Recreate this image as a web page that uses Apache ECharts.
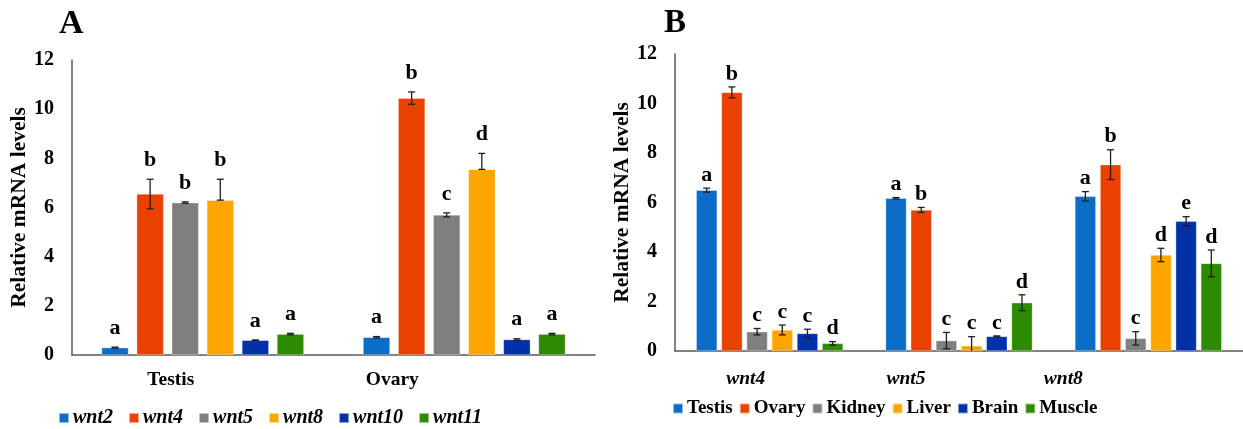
<!DOCTYPE html>
<html>
<head>
<meta charset="utf-8">
<script src="https://cdn.jsdelivr.net/npm/echarts@6/dist/echarts.min.js"></script>
<style>
  html, body { margin: 0; padding: 0; background: #fff; }
  #chart { width: 1243px; height: 429px; }
</style>
</head>
<body>
<div id="chart"></div>
<script>
// Panel A: wnt genes in testis and ovary
const catA = ['Testis', 'Ovary'];
const genesA = ['wnt2', 'wnt4', 'wnt5', 'wnt8', 'wnt10', 'wnt11'];
// rows follow genesA, columns follow catA
const meanA = [
  [0.30, 0.72],
  [6.55, 10.45],
  [6.20, 5.70],
  [6.30, 7.55],
  [0.60, 0.63],
  [0.85, 0.85]
];
const errA = [
  [0.02, 0.03],
  [0.60, 0.25],
  [0.03, 0.08],
  [0.85, 0.65],
  [0.01, 0.03],
  [0.03, 0.03]
];
const letterA = [
  ['a', 'a'],
  ['b', 'b'],
  ['b', 'c'],
  ['b', 'd'],
  ['a', 'a'],
  ['a', 'a']
];
const plusOnlyA = ['wnt8'];

// Panel B: wnt4 / wnt5 / wnt8 across tissues
const catB = ['wnt4', 'wnt5', 'wnt8'];
const tissuesB = ['Testis', 'Ovary', 'Kidney', 'Liver', 'Brain', 'Muscle'];
// rows follow tissuesB, columns follow catB
const meanB = [
  [6.50, 6.17, 6.25],
  [10.45, 5.70, 7.53],
  [0.78, 0.42, 0.51],
  [0.85, 0.21, 3.88],
  [0.71, 0.59, 5.24],
  [0.31, 1.95, 3.54]
];
const errB = [
  [0.08, 0.03, 0.19],
  [0.22, 0.10, 0.60],
  [0.13, 0.33, 0.27],
  [0.20, 0.37, 0.27],
  [0.17, 0.02, 0.19],
  [0.07, 0.32, 0.54]
];
const letterB = [
  ['a', 'a', 'a'],
  ['b', 'b', 'b'],
  ['c', 'c', 'c'],
  ['c', 'c', 'd'],
  ['c', 'c', 'e'],
  ['d', 'd', 'd']
];

const yTicks = [0, 2, 4, 6, 8, 10, 12];

const palette = ['#0B6DC7', '#EA4000', '#7F7F7F', '#FFA500', '#0031A8', '#2E8A00'];
const SERIF = '"Liberation Serif", "DejaVu Serif", serif';
const AXIS_COLOR = '#595959';

function barSeries(names, means, gridIdx, gapPct, catGapPct) {
  return names.map((name, s) => ({
    type: 'bar',
    name: name,
    xAxisIndex: gridIdx,
    yAxisIndex: gridIdx,
    data: means[s],
    barGap: gapPct + '%',
    barCategoryGap: catGapPct + '%',
    itemStyle: { color: palette[s], borderColor: 'rgba(255,255,255,0.55)', borderWidth: 0.6 },
    emphasis: { disabled: true },
    z: 2
  }));
}

// Error bars and significance letters, placed over the matching bar in each group
function errorSeries(names, means, errs, letters, gridIdx, gapPct, catGapPct, textGap, plusOnly) {
  const n = names.length;
  const g = gapPct / 100, c = catGapPct / 100;
  const data = [];
  names.forEach((name, s) => {
    means[s].forEach((v, k) => {
      data.push([k, s, v, errs[s][k]]);
    });
  });
  return {
    type: 'custom',
    xAxisIndex: gridIdx,
    yAxisIndex: gridIdx,
    data: data,
    z: 5,
    silent: true,
    renderItem: function (params, api) {
      const k = api.value(0), s = api.value(1), v = api.value(2), e = api.value(3);
      const band = api.size([1, 0])[0];
      const total = band * (1 - c);
      const bw = total / (n + (n - 1) * g);
      const cx = api.coord([k, 0])[0] - total / 2 + s * bw * (1 + g) + bw / 2;
      const yTop = api.coord([k, v + e])[1];
      const low = plusOnly.indexOf(names[s]) >= 0 ? v : Math.max(0, v - e);
      const yBot = api.coord([k, low])[1];
      const cap = 3.5;
      const lineStyle = { stroke: '#1f1f1f', lineWidth: 1.3 };
      const children = [
        { type: 'line', shape: { x1: cx, y1: yTop, x2: cx, y2: yBot }, style: lineStyle },
        { type: 'line', shape: { x1: cx - cap, y1: yTop, x2: cx + cap, y2: yTop }, style: lineStyle }
      ];
      if (low > 0) {
        children.push({ type: 'line', shape: { x1: cx - cap, y1: yBot, x2: cx + cap, y2: yBot }, style: lineStyle });
      }
      children.push({
        type: 'text',
        style: {
          text: letters[s][k],
          x: cx,
          y: yTop - textGap,
          align: 'center',
          verticalAlign: 'bottom',
          font: 'bold 22px ' + SERIF,
          fill: '#000'
        }
      });
      return { type: 'group', children: children };
    }
  };
}

function yAxis(gridIdx, nameGap) {
  return {
    type: 'value',
    gridIndex: gridIdx,
    min: 0,
    max: 12,
    interval: 2,
    name: 'Relative mRNA levels',
    nameLocation: 'middle',
    nameGap: nameGap,
    nameTextStyle: { fontFamily: SERIF, fontWeight: 'bold', fontSize: 21.5, color: '#000', padding: [10, 0, 0, 0] },
    axisLine: { show: true, lineStyle: { color: AXIS_COLOR, width: 1.5 } },
    axisTick: { show: false },
    splitLine: { show: false },
    axisLabel: {
      margin: 18,
      fontFamily: SERIF, fontWeight: 'bold', fontSize: 20, color: '#000',
      formatter: v => (yTicks.indexOf(v) >= 0 ? String(v) : '')
    }
  };
}

function xAxis(gridIdx, cats, shifts, italic, margin) {
  const rich = {};
  shifts.forEach((p, i) => {
    rich['c' + i] = {
      fontFamily: SERIF, fontWeight: 'bold', fontSize: 19.5, color: '#000',
      fontStyle: italic ? 'italic' : 'normal',
      padding: [0, p, 0, 0]
    };
  });
  return {
    type: 'category',
    gridIndex: gridIdx,
    data: cats,
    axisLine: { show: true, lineStyle: { color: AXIS_COLOR, width: 1.5 } },
    axisTick: { show: false },
    axisLabel: {
      margin: margin,
      interval: 0,
      formatter: (v, i) => '{c' + i + '|' + v + '}',
      rich: rich
    }
  };
}

const GAP_A = 30, CATGAP_A = 22.6;
const GAP_B = 20, CATGAP_B = 22.4;

const option = {
  animation: false,
  backgroundColor: '#fff',
  title: [
    { text: 'A', left: 54, top: 2, textStyle: { fontFamily: SERIF, fontWeight: 'bold', fontSize: 34, color: '#000' } },
    { text: 'B', left: 659, top: 2, textStyle: { fontFamily: SERIF, fontWeight: 'bold', fontSize: 33, color: '#000' } }
  ],
  grid: [
    { left: 72, right: 648, top: 60, bottom: 74 },
    { left: 675, right: 0, top: 54, bottom: 78 }
  ],
  legend: [
    {
      data: genesA,
      left: 53, top: 403,
      icon: 'rect', itemWidth: 10, itemHeight: 10, itemGap: 15,
      textStyle: { fontFamily: SERIF, fontWeight: 'bold', fontStyle: 'italic', fontSize: 20, color: '#000', padding: [0, 0, 0, -1] }
    },
    {
      data: tissuesB,
      left: 667, top: 394,
      icon: 'rect', itemWidth: 10, itemHeight: 10, itemGap: 6,
      textStyle: { fontFamily: SERIF, fontWeight: 'bold', fontSize: 19, color: '#000', padding: [0, 0, 0, -1] }
    }
  ],
  xAxis: [
    xAxis(0, catA, [64, 144], false, 15),
    xAxis(1, catB, [48, 106, 170], true, 18)
  ],
  yAxis: [
    yAxis(0, 37),
    yAxis(1, 31)
  ],
  series: [
    ...barSeries(genesA, meanA, 0, GAP_A, CATGAP_A),
    errorSeries(genesA, meanA, errA, letterA, 0, GAP_A, CATGAP_A, 8, plusOnlyA),
    ...barSeries(tissuesB, meanB, 1, GAP_B, CATGAP_B),
    errorSeries(tissuesB, meanB, errB, letterB, 1, GAP_B, CATGAP_B, 2, [])
  ]
};

const chart = echarts.init(document.getElementById('chart'), null, { renderer: 'canvas' });
chart.setOption(option);
</script>
</body>
</html>
